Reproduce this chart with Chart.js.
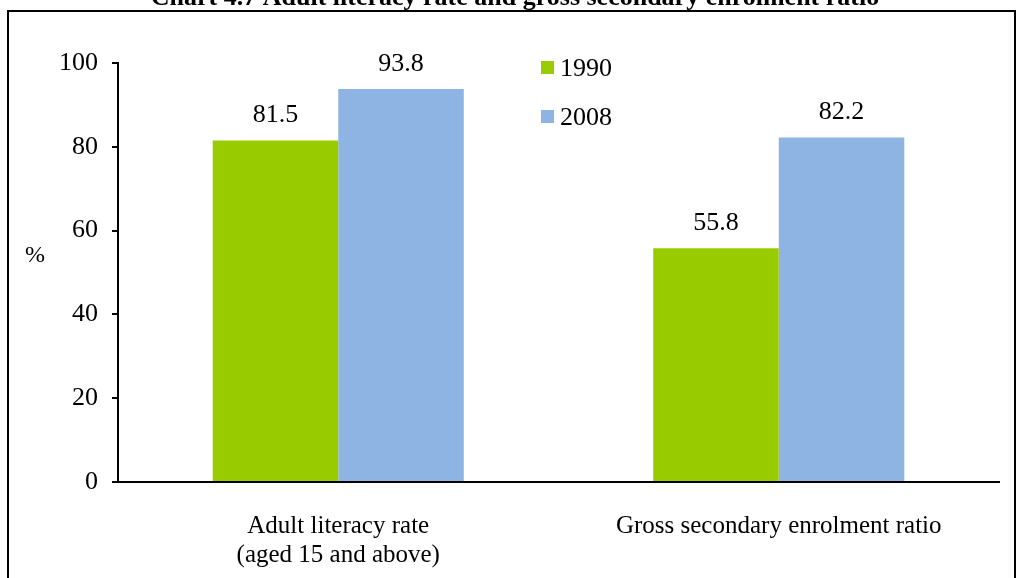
<!DOCTYPE html>
<html>
<head>
<meta charset="utf-8">
<script src="https://cdn.jsdelivr.net/npm/chart.js@4/dist/chart.umd.min.js"></script>
<style>
  html, body { margin: 0; padding: 0; background: #fff; }
</style>
</head>
<body>
<canvas id="myChart" width="1020" height="578"></canvas>
<script>
var categories = [['Adult literacy rate', '(aged 15 and above)'], 'Gross secondary enrolment ratio'];
var series1990 = [81.5, 55.8];
var series2008 = [93.8, 82.2];
var yTicks = [0, 20, 40, 60, 80, 100];

var SERIF = '"Liberation Serif", "Times New Roman", serif';

// frame, title, % label, legend and value labels
var extras = {
  id: 'extras',
  beforeDraw: function(chart) {
    var c = chart.ctx;
    c.save();
    c.fillStyle = '#fff';
    c.fillRect(0, 0, chart.width, chart.height);
    c.strokeStyle = '#000';
    c.lineWidth = 2;
    c.strokeRect(8, 11, 1007, 600);
    c.fillStyle = '#000';
    c.font = 'bold 26px ' + SERIF;
    c.textAlign = 'center';
    c.textBaseline = 'alphabetic';
    c.fillText('Chart 4.7 Adult literacy rate and gross secondary enrolment ratio', 515, 5);
    c.restore();
  },
  afterDatasetsDraw: function(chart) {
    var c = chart.ctx;
    c.save();
    c.fillStyle = '#000';
    c.font = '26px ' + SERIF;
    c.textAlign = 'center';
    c.textBaseline = 'middle';
    chart.data.datasets.forEach(function(ds, i) {
      chart.getDatasetMeta(i).data.forEach(function(bar, j) {
        c.fillText(ds.data[j].toFixed(1), bar.x, bar.y - 25);
      });
    });
    c.font = '24px ' + SERIF;
    c.fillText('%', 35, 256);
    // legend
    c.font = '26px ' + SERIF;
    c.textAlign = 'left';
    chart.data.datasets.forEach(function(ds, i) {
      var y = 68 + i * 49;
      c.fillStyle = ds.backgroundColor;
      c.fillRect(541, y - 7, 13, 13);
      c.fillStyle = '#000';
      c.fillText(ds.label, 560, y + 1);
    });
    c.restore();
  }
};

var ctx = document.getElementById('myChart');
new Chart(ctx, {
  type: 'bar',
  data: {
    labels: categories,
    datasets: [
      { label: '1990', data: series1990, backgroundColor: '#99CC00' },
      { label: '2008', data: series2008, backgroundColor: '#8EB4E3' }
    ]
  },
  options: {
    responsive: false,
    animation: false,
    categoryPercentage: 0.57,
    barPercentage: 1,
    layout: { padding: { top: 63, right: 21, left: 0, bottom: 0 } },
    plugins: { legend: { display: false }, tooltip: { enabled: false } },
    scales: {
      x: {
        grid: { display: true, drawOnChartArea: false, drawTicks: false },
        border: { color: '#000', width: 2 },
        ticks: {
          color: '#000',
          padding: 30,
          maxRotation: 0,
          font: { family: SERIF, size: 25, lineHeight: 1.15 }
        },
        afterFit: function(s) { s.height = 96; }
      },
      y: {
        min: 0,
        max: 100,
        afterBuildTicks: function(s) { s.ticks = yTicks.map(function(v) { return { value: v }; }); },
        grid: { drawOnChartArea: false, drawTicks: true, tickLength: 6, color: '#000', lineWidth: 2 },
        border: { color: '#000', width: 2 },
        ticks: {
          color: '#000',
          padding: 14,
          font: { family: SERIF, size: 26 }
        },
        afterFit: function(s) { s.width = 118; }
      }
    }
  },
  plugins: [extras]
});
</script>
</body>
</html>
